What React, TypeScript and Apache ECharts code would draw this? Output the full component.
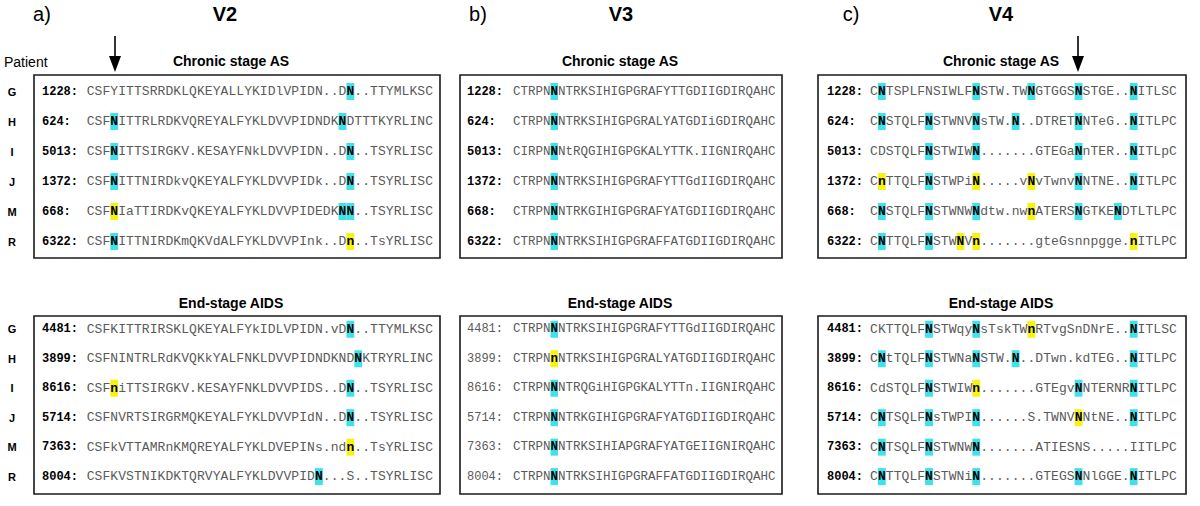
import React, { useEffect, useRef } from "react";
import * as echarts from "echarts";

// ---------- data ----------
const patients = ["G", "H", "I", "J", "M", "R"];
const chronicIds = ["1228", "624", "5013", "1372", "668", "6322"];
const endIds = ["4481", "3899", "8616", "5714", "7363", "8004"];

// [X] = cyan highlighted residue, {X} = yellow highlighted residue
const v2Chronic = [
  "CSFYITTSRRDKLQKEYALLYKIDlVPIDN..D[N]..TTYMLKSC",
  "CSF[N]ITTRLRDKVQREYALFYKLDVVPIDNDK[N]DTTTKYRLINC",
  "CSF[N]ITTSIRGKV.KESAYFNkLDVVPIDN..D[N]..TSYRLISC",
  "CSF[N]ITTNIRDkvQKEYALFYKLDVVPIDk..D[N]..TSYRLISC",
  "CSF{N}IaTTIRDKvQKEYALFYKLDVVPIDEDK[N][N]..TSYRLISC",
  "CSF[N]ITTNIRDKmQKVdALFYKLDVVPInk..D{n}..TsYRLISC",
];
const v2End = [
  "CSFKITTRIRSKLQKEYALFYkIDLVPIDN.vD[N]..TTYMLKSC",
  "CSFNINTRLRdKVQKkYALFNKLDVVPIDNDKND[N]KTRYRLINC",
  "CSF{n}iTTSIRGKV.KESAYFNKLDVVPIDS..D[N]..TSYRLISC",
  "CSFNVRTSIRGRMQKEYALFYKLDVVPIdN..D[N]..TSYRLISC",
  "CSFkVTTAMRnKMQREYALFYKLDVEPINs.nd{n}..TsYRLISC",
  "CSFKVSTNIKDKTQRVYALFYKLDVVPID[N]...S..TSYRLISC",
];
const v3Chronic = [
  "CTRPN[N]NTRKSIHIGPGRAFYTTGDIIGDIRQAHC",
  "CTRPN[N]NTRKSIHIGPGRALYATGDIiGDIRQAHC",
  "CIRPN[N]NtRQGIHIGPGKALYTTK.IIGNIRQAHC",
  "CTRPN[N]NTRKSIHIGPGRAFYTTGdIIGDIRQAHC",
  "CTRPN[N]NTRKGIHIGPGRAFYATGDIIGDIRQAHC",
  "CTRPN[N]NTRKSIHIGPGRAFFATGDIIGDIRQAHC",
];
const v3End = [
  "CTRPN[N]NTRKSIHIGPGRAFYTTGdIIGDIRQAHC",
  "CTRPN{n}NTRKSIHIGPGRALYATGDIIGDIRQAHC",
  "CTRPN[N]NTRQGiHIGPGKALYTTn.IIGNIRQAHC",
  "CTRPN[N]NTRKGIHIGPGRAFYATGDIIGDIRQAHC",
  "CTRPN[N]NTRKSIHIAPGRAFYATGEIIGNIRQAHC",
  "CTRPN[N]NTRKSIHIGPGRAFFATGDIIGDIRQAHC",
];
const v4Chronic = [
  "C[N]TSPLFNSIWLF[N]STW.TW[N]GTGGS[N]STGE..[N]ITLSC",
  "C[N]STQLF[N]STWNV[N]sTW.[N]..DTRET[N]NTeG..[N]ITLPC",
  "CDSTQLF[N]STWIW[N].......GTEGa[N]nTER..[N]ITLpC",
  "C{n}TTQLF[N]STWPi{N}.....v{N}vTwnv[N]NTNE..[N]ITLPC",
  "C[N]STQLF[N]STWNW[N]dtw.nw{n}ATERS[N]GTKE[N]DTLTLPC",
  "C[N]TTQLF[N]STW{N}V{n}.......gteGsnnpgge.{n}ITLPC",
];
const v4End = [
  "CKTTQLF[N]STWqy[N]sTskTW{n}RTvgSnDNrE..[N]ITLSC",
  "C[N]tTQLF[N]STWNa[N]STW.[N]..DTwn.kdTEG..[N]ITLPC",
  "CdSTQLF[N]STWIW{n}.......GTEgv[N]NTERNR[N]ITLPC",
  "C[N]TSQLF[N]sTWPI[N]......S.TWNV{N}NtNE..[N]ITLPC",
  "C[N]TSQLF[N]STWNW[N].......ATIESNS.....IITLPC",
  "C[N]TTQLF[N]STWNi[N].......GTEGS[N]NlGGE.[N]ITLPC",
];

const regionLabels = ["V2", "V3", "V4"];
const panelLetters = ["a)", "b)", "c)"];
const stageLabels = ["Chronic stage AS", "End-stage AIDS"];

// ---------- helpers / layout ----------
type Cell = { ch: string; hl: number };
function parseSeq(s: string): Cell[] {
  const out: Cell[] = [];
  for (let i = 0; i < s.length; i++) {
    const c = s[i];
    if (c === "[") {
      out.push({ ch: s[i + 1], hl: 1 });
      i += 2;
    } else if (c === "{") {
      out.push({ ch: s[i + 1], hl: 2 });
      i += 2;
    } else out.push({ ch: c, hl: 0 });
  }
  return out;
}

const MONO = "'Liberation Mono', 'Courier New', monospace";
const SANS = "'Liberation Sans', Arial, sans-serif";
const CYAN = "#3fe2ea";
const YELLOW = "#f6f212";
const SEQ_GREY = "#5a5a5a";

type Panel = {
  ids: string[];
  seqs: string[];
  box: [number, number, number, number];
  seqX: number;
  charW: number;
  idX: number;
  idBold: boolean;
  ymin: number;
  ymax: number;
};

const CH_BOX: [number, number] = [75, 258];
const END_BOX: [number, number] = [316, 494];

const panels: Panel[] = [
  { ids: chronicIds, seqs: v2Chronic, box: [34, CH_BOX[0], 440, CH_BOX[1]], seqX: 86.7, charW: 7.87, idX: 42, idBold: true, ymin: -0.55, ymax: 5.55 },
  { ids: endIds, seqs: v2End, box: [34, END_BOX[0], 440, END_BOX[1]], seqX: 86.7, charW: 7.87, idX: 42, idBold: true, ymin: -0.45, ymax: 5.59 },
  { ids: chronicIds, seqs: v3Chronic, box: [460, CH_BOX[0], 782, CH_BOX[1]], seqX: 513, charW: 7.5, idX: 467, idBold: true, ymin: -0.55, ymax: 5.55 },
  { ids: endIds, seqs: v3End, box: [460, END_BOX[0], 782, END_BOX[1]], seqX: 513, charW: 7.5, idX: 467, idBold: false, ymin: -0.45, ymax: 5.59 },
  { ids: chronicIds, seqs: v4Chronic, box: [818, CH_BOX[0], 1186, CH_BOX[1]], seqX: 870, charW: 7.87, idX: 827, idBold: true, ymin: -0.55, ymax: 5.55 },
  { ids: endIds, seqs: v4End, box: [818, END_BOX[0], 1186, END_BOX[1]], seqX: 870, charW: 7.87, idX: 827, idBold: true, ymin: -0.45, ymax: 5.59 },
];

function buildOption() {
  const grid: any[] = [];
  const xAxis: any[] = [];
  const yAxis: any[] = [];
  const series: any[] = [];

  panels.forEach((p, gi) => {
    const [L, T, R, B] = p.box;
    const w = p.charW;
    grid.push({
      left: L,
      top: T,
      width: R - L,
      height: B - T,
      show: true,
      borderColor: "#1a1a1a",
      borderWidth: 1.6,
      backgroundColor: "#fff",
      containLabel: false,
    });
    const xmin = 0.5 - (p.seqX - L) / w;
    xAxis.push({ type: "value", gridIndex: gi, min: xmin, max: xmin + (R - L) / w, show: false });
    yAxis.push({ type: "value", gridIndex: gi, inverse: true, min: p.ymin, max: p.ymax, show: false });

    const parsed = p.seqs.map(parseSeq);
    const showLetters = gi === 0 || gi === 1;
    const seqFont = w < 7.7 ? 12.5 : 13;

    series.push({
      type: "custom",
      xAxisIndex: gi,
      yAxisIndex: gi,
      clip: false,
      silent: true,
      data: p.seqs.map((_, i) => [1, i]),
      encode: { x: 0, y: 1 },
      renderItem: (params: any, api: any) => {
        const row = api.value(1);
        const y = api.coord([1, row])[1];
        const children: any[] = [];
        const cells = parsed[row];
        cells.forEach((c, k) => {
          const x = api.coord([k + 1, row])[0];
          if (c.hl) {
            children.push({
              type: "rect",
              shape: { x: x - w / 2, y: y - 8.5, width: w, height: 17 },
              style: { fill: c.hl === 1 ? CYAN : YELLOW },
            });
          }
        });
        cells.forEach((c, k) => {
          const x = api.coord([k + 1, row])[0];
          children.push({
            type: "text",
            x,
            y,
            style: {
              text: c.ch,
              font: `${c.hl ? "bold " : ""}${seqFont}px ${MONO}`,
              fill: c.hl ? "#000" : SEQ_GREY,
              textAlign: "center",
              textVerticalAlign: "middle",
              align: "center",
              verticalAlign: "middle",
            },
          });
        });
        children.push({
          type: "text",
          x: p.idX,
          y,
          style: {
            text: p.ids[row] + ":",
            font: `${p.idBold ? "bold " : ""}12px ${MONO}`,
            fill: p.idBold ? "#000" : SEQ_GREY,
            textAlign: "left",
            textVerticalAlign: "middle",
            align: "left",
            verticalAlign: "middle",
          },
        });
        if (showLetters) {
          children.push({
            type: "text",
            x: 12,
            y,
            style: {
              text: patients[row],
              font: `bold 11px ${SANS}`,
              fill: "#000",
              textAlign: "center",
              textVerticalAlign: "middle",
              align: "center",
              verticalAlign: "middle",
            },
          });
        }
        return { type: "group", children };
      },
    });
  });

  const txt = (text: string, x: number, y: number, font: string, align = "center") => ({
    type: "text",
    x,
    y,
    silent: true,
    style: {
      text,
      font,
      fill: "#000",
      textAlign: align,
      textVerticalAlign: "middle",
      align,
      verticalAlign: "middle",
    },
  });

  const panelCenters = [231, 620, 1001];
  const letterX = [42, 478, 851];
  const titleX = [225, 621, 1001];
  const graphic: any[] = [];
  panelCenters.forEach((cx, i) => {
    graphic.push(txt(panelLetters[i], letterX[i], 14, `20px ${SANS}`));
    graphic.push(txt(regionLabels[i], titleX[i], 14, `bold 20px ${SANS}`));
    graphic.push(txt(stageLabels[0], cx, 61, `bold 14px ${SANS}`));
    graphic.push(txt(stageLabels[1], cx, 303, `bold 14px ${SANS}`));
  });
  graphic.push(txt("Patient", 4, 62, `14px ${SANS}`, "left"));

  // arrows
  [115, 1078].forEach((ax) => {
    graphic.push({
      type: "line",
      silent: true,
      shape: { x1: ax, y1: 36, x2: ax, y2: 60 },
      style: { stroke: "#000", lineWidth: 1.6 },
    });
    graphic.push({
      type: "polygon",
      silent: true,
      shape: { points: [[ax - 6, 56], [ax + 6, 56], [ax, 72]] },
      style: { fill: "#000" },
    });
  });

  return {
    animation: false,
    backgroundColor: "#fff",
    grid,
    xAxis,
    yAxis,
    series,
    graphic,
  };
}

export default function App() {
  const ref = useRef<HTMLDivElement>(null);
  useEffect(() => {
    document.body.style.margin = "0";
    if (!ref.current) return;
    const chart = echarts.init(ref.current, undefined, { renderer: "svg" });
    chart.setOption(buildOption() as any);
    return () => chart.dispose();
  }, []);
  return <div ref={ref} style={{ width: 1200, height: 506 }} />;
}
